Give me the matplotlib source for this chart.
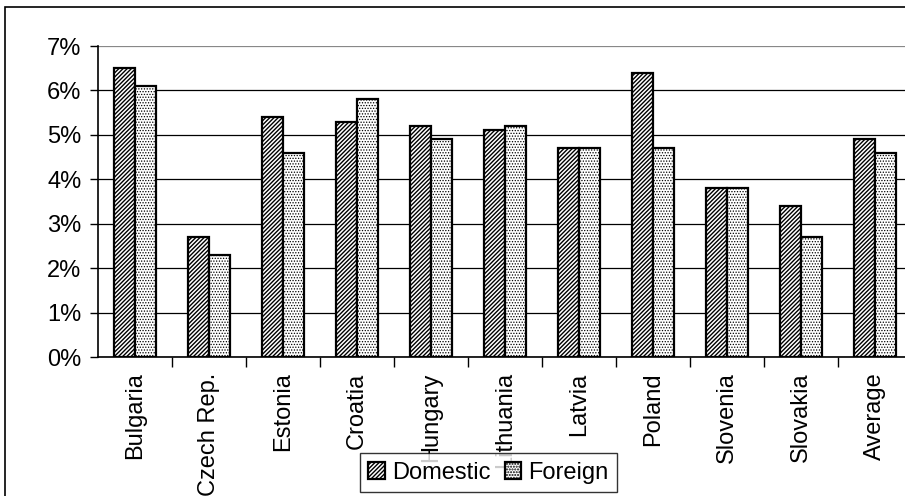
import matplotlib.pyplot as plt
import numpy as np
from matplotlib.patches import Rectangle
from matplotlib.ticker import PercentFormatter

countries = ["Bulgaria", "Czech Rep.", "Estonia", "Croatia", "Hungary", "Lithuania",
             "Latvia", "Poland", "Slovenia", "Slovakia", "Average"]
domestic = [6.5, 2.7, 5.4, 5.3, 5.2, 5.1, 4.7, 6.4, 3.8, 3.4, 4.9]
foreign = [6.1, 2.3, 4.6, 5.8, 4.9, 5.2, 4.7, 4.7, 3.8, 2.7, 4.6]


def main():
    plt.rcParams["font.family"] = ["Liberation Sans", "DejaVu Sans"]
    plt.rcParams["hatch.linewidth"] = 1.0

    fig = plt.figure(figsize=(9.05, 4.96), dpi=100)
    ax = fig.add_axes([98 / 905, 139 / 496, 814 / 905, 311 / 496])

    x = np.arange(len(countries))
    w = 0.29
    ax.bar(x - w / 2, domestic, w, color="white", edgecolor="black", hatch="////////",
           linewidth=1.6, label="Domestic", zorder=3)
    fb = ax.bar(x + w / 2, foreign, w, color="white", edgecolor="black", hatch="......",
                linewidth=1.6, label="Foreign", zorder=3)
    for p in fb:
        p.set_hatch_linewidth(0.6)

    ax.set_xlim(-0.5, len(countries) - 0.5)
    ax.set_ylim(0, 7)
    ax.set_yticks(range(0, 8))
    ax.yaxis.set_major_formatter(PercentFormatter(decimals=0))
    ax.yaxis.grid(True, color="black", linewidth=0.9, zorder=0)
    ax.set_axisbelow(True)
    ax.yaxis.get_gridlines()[-1].set_color("#888888")

    # category labels centred, ticks between categories
    ax.set_xticks(x)
    ax.set_xticklabels(countries, rotation=90, fontsize=17)
    ax.tick_params(axis="x", which="major", length=0, pad=11)
    ax.set_xticks(np.arange(0.5, len(countries) - 0.5), minor=True)
    ax.tick_params(axis="x", which="minor", length=7, width=1, direction="out")
    ax.tick_params(axis="y", labelsize=17, length=6, width=1, direction="out", pad=6)

    for side in ["top", "right"]:
        ax.spines[side].set_visible(False)
    ax.spines["left"].set_linewidth(1.2)
    ax.spines["bottom"].set_linewidth(1.2)

    # outer chart border (right and bottom edges fall outside the image)
    fig.patches.append(Rectangle((5 / 905, -0.2), 1.2, 0.2 + (496 - 7) / 496,
                                 transform=fig.transFigure, fill=False,
                                 edgecolor="black", linewidth=1.2))

    leg = fig.legend(loc="lower left", bbox_to_anchor=(360 / 905, 4 / 496),
                     bbox_transform=fig.transFigure, ncol=2, fontsize=17,
                     frameon=True, fancybox=False, borderaxespad=0,
                     handlelength=0.7, handleheight=0.7, handletextpad=0.3,
                     columnspacing=0.6, borderpad=0.35)
    leg.get_frame().set_edgecolor("black")
    leg.get_frame().set_linewidth(1.0)
    leg.set_zorder(10)

    fig.savefig("out.png", dpi=100)


if __name__ == "__main__":
    main()
